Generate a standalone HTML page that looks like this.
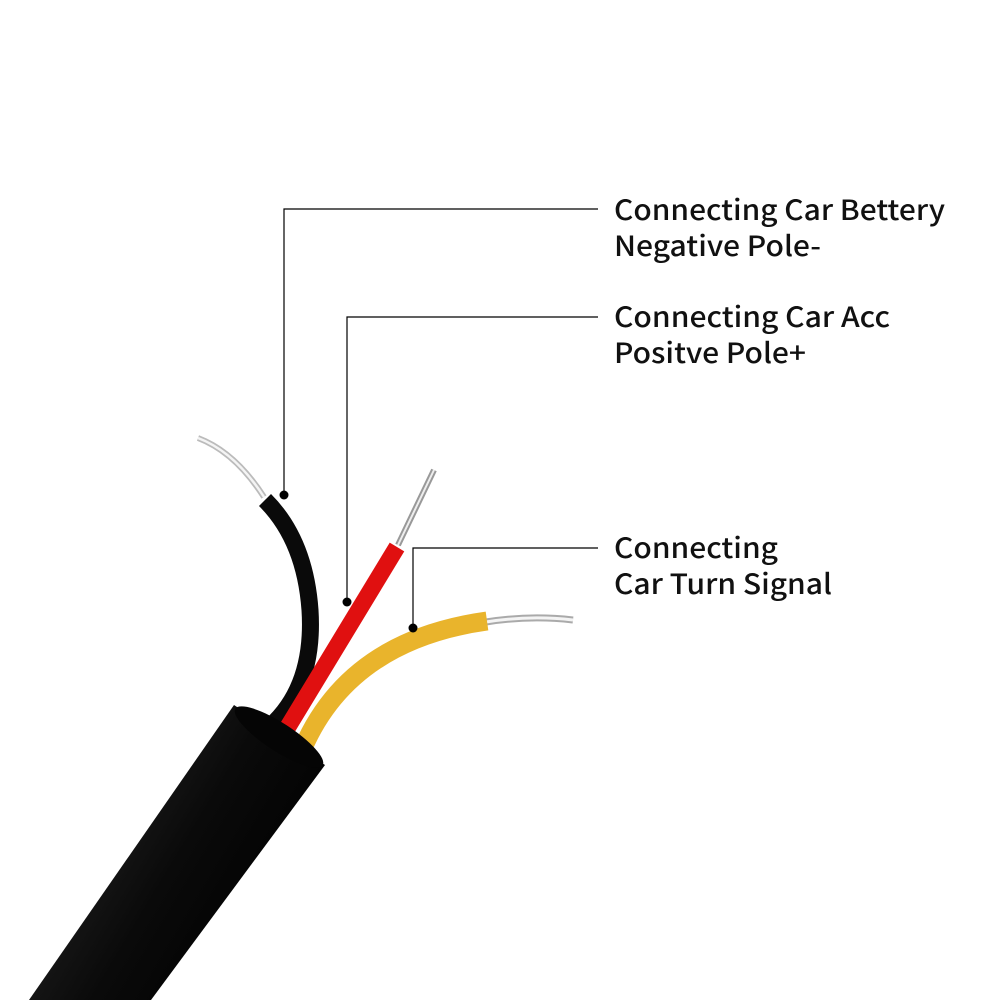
<!DOCTYPE html>
<html><head><meta charset="utf-8"><style>
html,body{margin:0;padding:0;background:#fff;width:1000px;height:1000px;overflow:hidden}
</style></head><body>
<svg width="1000" height="1000" viewBox="0 0 1000 1000" xmlns="http://www.w3.org/2000/svg">
<defs>
<linearGradient id="jk" x1="0" y1="0" x2="1" y2="0.6">
<stop offset="0" stop-color="#000"/><stop offset="0.35" stop-color="#1a1a1a"/><stop offset="0.6" stop-color="#0a0a0a"/><stop offset="1" stop-color="#000"/>
</linearGradient>
</defs>
<path d="M264,497 Q235,452 198,438" fill="none" stroke="#bbb" stroke-width="6"/>
<path d="M264,497 Q235,452 198,438" fill="none" stroke="#f4f4f4" stroke-width="2.5"/>
<path d="M398,545 L434,470" fill="none" stroke="#999" stroke-width="6"/>
<path d="M398,545 L434,470" fill="none" stroke="#eee" stroke-width="2"/>
<path d="M486,622 Q530,615 573,620" fill="none" stroke="#aaa" stroke-width="7"/>
<path d="M486,622 Q530,615 573,620" fill="none" stroke="#f4f4f4" stroke-width="3"/>
<path d="M266,730 Q315,690 310,610 Q305,540 265,500" fill="none" stroke="#0a0a0a" stroke-width="17"/>
<path d="M280,740 L397,547" fill="none" stroke="#e01010" stroke-width="17"/>
<path d="M303,748 Q350,640 487,621" fill="none" stroke="#e9b42c" stroke-width="19"/>
<polygon points="234,705 325,765 151,1000 29,1000" fill="url(#jk)"/>
<ellipse cx="279" cy="737" rx="52" ry="14" transform="rotate(33 279 737)" fill="#050505"/>
<g stroke="#000" stroke-width="1.2" fill="none">
<path d="M284,495 V209 H598"/>
<path d="M347,602 V317 H598"/>
<path d="M413,628 V548 H598"/>
</g>
<circle cx="284" cy="495" r="4.5"/>
<circle cx="347" cy="602" r="4.5"/>
<circle cx="413" cy="628" r="4.5"/>
<g font-family="'Noto Sans CJK SC','Liberation Sans',sans-serif" font-size="28" font-weight="500" fill="#111">
<text x="614" y="220" textLength="331" lengthAdjust="spacingAndGlyphs">Connecting Car Bettery</text>
<text x="614" y="256" textLength="207" lengthAdjust="spacingAndGlyphs">Negative Pole-</text>
<text x="614" y="327" textLength="276" lengthAdjust="spacingAndGlyphs">Connecting Car Acc</text>
<text x="614" y="363" textLength="192" lengthAdjust="spacingAndGlyphs">Positve Pole+</text>
<text x="614" y="558" textLength="164" lengthAdjust="spacingAndGlyphs">Connecting</text>
<text x="614" y="594" textLength="218" lengthAdjust="spacingAndGlyphs">Car Turn Signal</text>
</g>
</svg>
</body></html>
